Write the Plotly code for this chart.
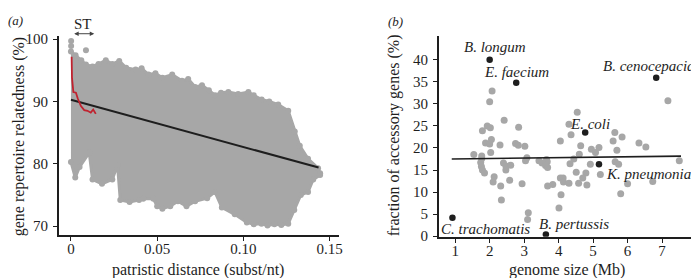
import plotly.graph_objects as go

# ---------------- data: panel (a) ----------------
# envelope of the dense point cloud (upper edge left->right, lower edge right->left)
cloud_upper_x = [0.0000, 0.0027, 0.0060, 0.0087, 0.0125, 0.0160, 0.0202, 0.0240, 0.0280, 0.0320,
                 0.0375, 0.0410, 0.0450, 0.0490, 0.0530, 0.0587, 0.0644, 0.0680, 0.0720, 0.0760,
                 0.0800, 0.0836, 0.0870, 0.0913, 0.0970, 0.1029, 0.1060, 0.1106, 0.1150, 0.1202,
                 0.1260, 0.1298, 0.1327, 0.1375, 0.1433, 0.1445]
cloud_upper_y = [98.0, 97.4, 96.6, 95.9, 95.6, 96.0, 96.6, 96.0, 96.5, 95.4,
                 95.1, 95.3, 94.3, 94.5, 93.8, 94.3, 93.3, 93.6, 92.3, 92.6,
                 91.8, 91.0, 91.4, 91.5, 91.2, 91.5, 91.0, 90.3, 90.0, 89.5,
                 88.5, 85.2, 82.9, 80.8, 79.3, 78.5]
cloud_lower_x = [0.1445, 0.1405, 0.1375, 0.1333, 0.1295, 0.1260, 0.1220, 0.1180, 0.1140, 0.1105,
                 0.1060, 0.1020, 0.0950, 0.0875, 0.0835, 0.0790, 0.0720, 0.0670, 0.0620, 0.0576,
                 0.0530, 0.0500, 0.0478, 0.0419, 0.0395, 0.0340, 0.0286, 0.0270, 0.0240, 0.0180,
                 0.0125, 0.0106, 0.0050, 0.0025, 0.0000]
cloud_lower_y = [78.2, 77.5, 75.5, 75.0, 72.6, 70.4, 70.2, 70.3, 70.1, 70.4,
                 70.3, 70.6, 71.9, 73.0, 75.5, 74.5, 74.0, 73.2, 74.0, 73.2,
                 72.8, 73.2, 74.4, 74.4, 74.2, 73.9, 74.2, 79.8, 77.5, 76.8,
                 77.5, 81.8, 79.5, 77.8, 80.3]
outlier_x = [0.0001, 0.0001, 0.0087]
outlier_y = [99.7, 98.9, 98.2]

# linear fit across all pairs
fit_a_x = [0.0, 0.1436]
fit_a_y = [90.26, 79.4]

# ST-level smoothed curve
st_x = [0.0004, 0.0006, 0.0014, 0.0029, 0.0039, 0.0058, 0.0077, 0.0096, 0.0115, 0.0129, 0.0144]
st_y = [97.15, 93.8, 91.5, 91.4, 90.5, 89.25, 88.6, 88.5, 88.2, 88.7, 88.0]

a_xticks = [0, 0.05, 0.10, 0.15]
a_xticklabels = ["0", "0.05", "0.10", "0.15"]
a_yticks = [70, 80, 90, 100]

# ---------------- data: panel (b) ----------------
grey_size = [2.07, 2.00, 7.17, 4.54, 2.42, 4.30, 1.93, 2.02, 2.84, 1.79,
             4.36, 5.84, 5.63, 5.58, 2.05, 1.88, 2.00, 2.30, 2.75, 2.83,
             3.02, 4.05, 4.64, 4.95, 5.17, 5.07, 6.33, 6.53, 5.69, 2.03,
             1.54, 1.77, 1.77, 3.08, 3.04, 3.43, 3.65, 3.67, 1.74, 2.40,
             2.47, 2.61, 3.52, 3.62, 3.68, 4.33, 4.60, 4.44, 4.92, 4.79,
             4.51, 5.64, 5.74, 5.21, 1.76, 1.79, 1.85, 2.47, 2.58, 2.13,
             2.10, 2.32, 2.94, 3.68, 3.83, 4.05, 4.13, 4.14, 4.30, 4.58,
             4.70, 4.82, 6.00, 6.73, 5.80, 2.34, 4.07, 4.01, 3.12, 3.10,
             7.50]
grey_frac = [32.9, 30.5, 30.7, 28.1, 26.3, 25.4, 25.0, 24.6, 24.7, 23.9,
             23.0, 22.5, 23.5, 21.6, 21.9, 21.1, 20.9, 20.7, 21.0, 20.6,
             20.4, 21.6, 20.5, 19.7, 20.1, 19.0, 21.1, 20.2, 19.5, 19.0,
             18.5, 18.2, 17.6, 17.8, 17.1, 17.1, 17.4, 16.9, 16.7, 16.6,
             15.9, 16.1, 16.6, 16.0, 15.6, 16.4, 18.6, 17.5, 16.3, 14.3,
             14.5, 16.9, 16.3, 14.0, 15.8, 15.0, 14.3, 15.0, 12.7, 13.5,
             12.3, 11.4, 11.9, 11.4, 11.7, 13.2, 13.2, 12.3, 12.0, 12.0,
             13.2, 11.6, 11.9, 12.4, 9.6, 8.2, 9.4, 6.4, 5.3, 3.8,
             17.1]

named_species = ["B. longum", "E. faecium", "B. cenocepacia", "E. coli",
                 "K. pneumoniae", "C. trachomatis", "B. pertussis"]
named_size = [2.00, 2.77, 6.83, 4.77, 5.17, 0.92, 3.63]
named_frac = [40.0, 34.8, 35.9, 23.5, 16.3, 4.2, 0.4]

fit_b_x = [0.9, 7.55]
fit_b_y = [17.5, 18.15]

b_xticks = [1, 2, 3, 4, 5, 6, 7, 8]
b_yticks = [0, 5, 10, 15, 20, 25, 30, 35, 40]

# ---------------- styling ----------------
FONT = "Liberation Serif, Times New Roman, Times, serif"
GREY = "#a7a7a7"
DARK = "#1e1e1e"
RED = "#c0222f"

# label placement relative to each named point (pixels) and anchor
label_shift = {
    "B. longum": (5, 13, "center"),
    "E. faecium": (0, 11, "center"),
    "B. cenocepacia": (-7, 12, "center"),
    "E. coli": (5, 9, "center"),
    "K. pneumoniae": (6, -10, "left"),
    "C. trachomatis": (33, -11, "center"),
    "B. pertussis": (28, 10, "center"),
}

fig = go.Figure()

# panel (a) cloud
poly_x = cloud_upper_x + cloud_lower_x
poly_y = cloud_upper_y + cloud_lower_y
fig.add_trace(go.Scatter(x=poly_x, y=poly_y, fill="toself", fillcolor=GREY,
                         mode="lines+markers", line=dict(color=GREY, width=3),
                         marker=dict(color=GREY, size=6), hoverinfo="skip",
                         showlegend=False, xaxis="x", yaxis="y"))
fig.add_trace(go.Scatter(x=outlier_x, y=outlier_y, mode="markers",
                         marker=dict(color=GREY, size=6), showlegend=False,
                         xaxis="x", yaxis="y"))
fig.add_trace(go.Scatter(x=fit_a_x, y=fit_a_y, mode="lines",
                         line=dict(color=DARK, width=2), showlegend=False,
                         xaxis="x", yaxis="y"))
fig.add_trace(go.Scatter(x=st_x, y=st_y, mode="lines",
                         line=dict(color=RED, width=1.8), showlegend=False,
                         xaxis="x", yaxis="y"))

# panel (b)
fig.add_trace(go.Scatter(x=grey_size, y=grey_frac, mode="markers",
                         marker=dict(color=GREY, size=7), showlegend=False,
                         xaxis="x2", yaxis="y2"))
fig.add_trace(go.Scatter(x=fit_b_x, y=fit_b_y, mode="lines",
                         line=dict(color=DARK, width=1.6), showlegend=False,
                         xaxis="x2", yaxis="y2"))
fig.add_trace(go.Scatter(x=named_size, y=named_frac, mode="markers",
                         marker=dict(color=DARK, size=6.5), showlegend=False,
                         xaxis="x2", yaxis="y2"))

annotations = []
for name, sx, fy in zip(named_species, named_size, named_frac):
    dx, dy, anc = label_shift[name]
    annotations.append(dict(x=sx, y=fy, xref="x2", yref="y2", text=f"<i>{name}</i>",
                            showarrow=False, xshift=dx, yshift=dy, xanchor=anc,
                            yanchor="middle", borderpad=0,
                            font=dict(family=FONT, size=15, color=DARK)))

def paper_text(text, px, py, size=16, angle=0):
    return dict(x=px / 699, y=1 - py / 278, xref="paper", yref="paper", text=text,
                showarrow=False, xanchor="center", yanchor="middle", textangle=angle,
                borderpad=0, font=dict(family=FONT, size=size, color=DARK))

annotations += [
    paper_text("patristic distance (subst/nt)", 191, 269.5),
    paper_text("gene repertoire relatedness (%)", 11, 130, angle=-90),
    paper_text("genome size (Mb)", 562, 269.5),
    paper_text("fraction of accessory genes (%)", 389, 129, angle=-90),
    paper_text("<i>(a)</i>", 8, 9, size=13),
    paper_text("<i>(b)</i>", 390, 10, size=13),
    paper_text("ST", 75, 12.5, size=15),
]
# ST span arrow
annotations.append(dict(x=0.0135, y=1 - 22.7 / 278, xref="x", yref="paper",
                        ax=0.001, ay=0, axref="x", ayref="pixel", text="",
                        showarrow=True, arrowside="end+start", arrowhead=2,
                        arrowsize=0.9, arrowwidth=1, arrowcolor="#444"))

axis_common = dict(showgrid=False, zeroline=False, showline=True, linecolor=DARK,
                   linewidth=1.5, ticks="outside", ticklen=4, tickwidth=1.2,
                   tickcolor=DARK, tickfont=dict(family=FONT, size=15, color=DARK))

fig.update_layout(
    width=699, height=278,
    margin=dict(l=0, r=0, t=0, b=0),
    paper_bgcolor="white", plot_bgcolor="white",
    showlegend=False,
    xaxis=dict(domain=[51 / 699, 333 / 699], range=[-0.0071, 0.1555],
               tickvals=a_xticks, ticktext=a_xticklabels, anchor="y",
               ticklabelstandoff=-5, **axis_common),
    yaxis=dict(domain=[1 - 233 / 278, 1 - 25 / 278], range=[68.6, 100.5],
               tickvals=a_yticks, anchor="x", ticklabelstandoff=2, **axis_common),
    xaxis2=dict(domain=[433.3 / 699, 692.5 / 699], range=[0.525, 8.0],
                tickvals=b_xticks, anchor="y2", ticklabelstandoff=-5, **axis_common),
    yaxis2=dict(domain=[1 - 235 / 278, 1 - 25 / 278], range=[-0.15, 45.4],
                tickvals=b_yticks, anchor="x2", ticklabelstandoff=2, **axis_common),
    annotations=annotations,
)

fig.write_html("out.html")
